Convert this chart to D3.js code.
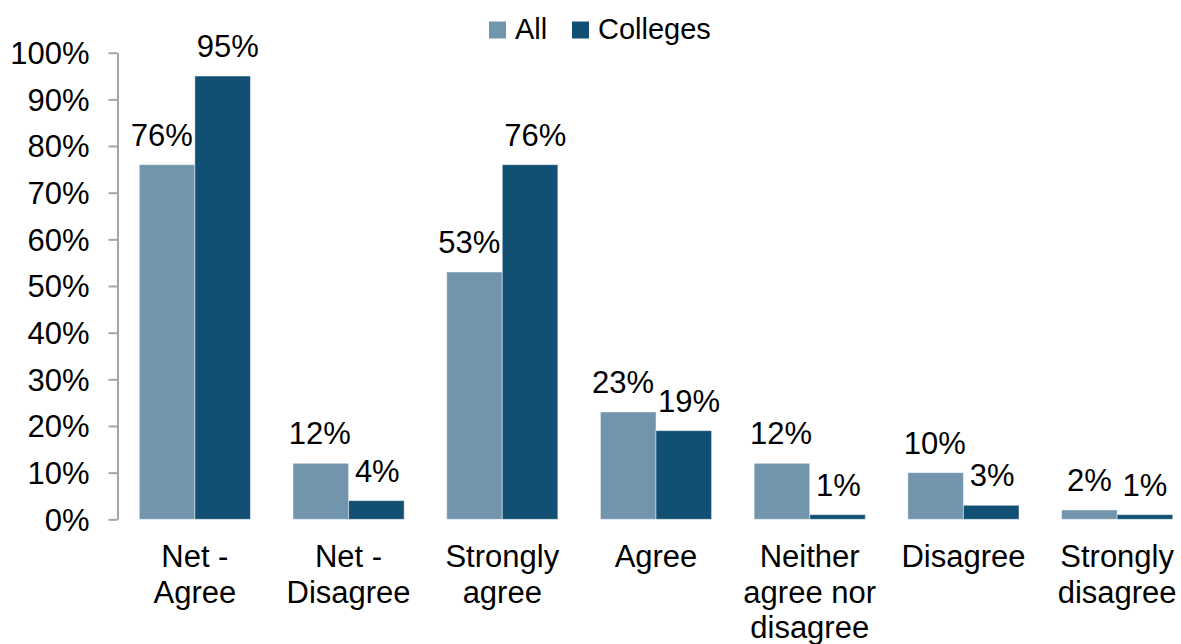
<!DOCTYPE html>
<html>
<head>
<meta charset="utf-8">
<script src="https://cdn.jsdelivr.net/npm/d3@7"></script>
<style>
  body { margin: 0; background: #fff; }
  svg { display: block; font-family: "Liberation Sans", Arial, sans-serif; }
</style>
</head>
<body>
<svg id="vis"></svg>
<script>
const width = 1181;
const height = 644;
const margin = {top: 52.7, right: -13, bottom: 124.7, left: 118};

const categories = ['Net - Agree', 'Net - Disagree', 'Strongly agree', 'Agree', 'Neither agree nor disagree', 'Disagree', 'Strongly disagree'];
const seriesNames = ['All', 'Colleges'];
const allValues = [76, 12, 53, 23, 12, 10, 2];
const collegeValues = [95, 4, 76, 19, 1, 3, 1];
const yTicks = [0, 10, 20, 30, 40, 50, 60, 70, 80, 90, 100];
const colors = ['#7295ae', '#114f73'];

const rows = categories.map((c, i) => ({category: c, values: [allValues[i], collegeValues[i]]}));

const svg = d3.select('#vis').attr('width', width).attr('height', height);

const x0 = d3.scaleBand().domain(categories).range([margin.left, width - margin.right]).paddingInner(0.277).paddingOuter(0.1385);
const x1 = d3.scaleBand().domain(seriesNames).range([0, x0.bandwidth()]);
const y = d3.scaleLinear().domain([0, 100]).range([height - margin.bottom, margin.top]);

// y axis
const yAxis = svg.append('g')
  .attr('transform', `translate(${margin.left - 0.5},0)`)
  .call(d3.axisLeft(y).tickValues(yTicks).tickFormat(d => d + '%').tickSize(9).tickSizeOuter(0).tickPadding(19));
yAxis.select('.domain').attr('stroke', '#a6a6a6').attr('stroke-width', 2);
yAxis.selectAll('.tick line').attr('stroke', '#a6a6a6').attr('stroke-width', 2);
yAxis.selectAll('.tick text').attr('fill', '#000').style('font-size', '31px').attr('font-family', null).attr('dy', '0.35em');

// bars
const groups = svg.append('g').selectAll('g').data(rows).join('g')
  .attr('transform', d => `translate(${x0(d.category)},0)`);

groups.selectAll('rect').data(d => d.values.map((v, i) => ({key: seriesNames[i], value: v, i})))
  .join('rect')
  .attr('x', d => x1(d.key))
  .attr('y', d => y(d.value))
  .attr('width', x1.bandwidth())
  .attr('height', d => y(0) - y(d.value))
  .attr('fill', d => colors[d.i])
  .attr('stroke', 'rgba(255,255,255,0.45)')
  .attr('stroke-width', 1);

groups.each(function() {
  const g = d3.select(this);
  const labels = g.selectAll('text.val').data(d => d.values.map((v, i) => ({key: seriesNames[i], value: v})))
    .join('text')
    .attr('class', 'val')
    .attr('x', d => x1(d.key) + x1.bandwidth() / 2)
    .attr('y', d => y(d.value) - 19)
    .attr('text-anchor', 'middle')
    .style('font-size', '31px')
    .attr('fill', '#000')
    .text(d => d.value + '%');
  // push the two labels apart when they collide
  const nodes = labels.nodes();
  const w0 = nodes[0].getComputedTextLength();
  const w1 = nodes[1].getComputedTextLength();
  const c0 = +nodes[0].getAttribute('x');
  const c1 = +nodes[1].getAttribute('x');
  const overlap = (c0 + w0 / 2 + 4) - (c1 - w1 / 2);
  if (overlap > 0) {
    d3.select(nodes[0]).attr('x', c0 - overlap / 2);
    d3.select(nodes[1]).attr('x', c1 + overlap / 2);
  }
});

// category labels with wrapping
const xLabels = svg.append('g').selectAll('text').data(categories).join('text')
  .attr('x', d => x0(d) + x0.bandwidth() / 2)
  .attr('y', 567)
  .attr('text-anchor', 'middle')
  .style('font-size', '31px')
  .attr('fill', '#000');

xLabels.each(function(d) {
  const text = d3.select(this);
  const words = d.split(' ');
  const maxW = x0.step() - 4;
  let line = [];
  let tspan = text.append('tspan').attr('x', text.attr('x')).attr('dy', 0);
  words.forEach(w => {
    line.push(w);
    tspan.text(line.join(' '));
    if (tspan.node().getComputedTextLength() > maxW && line.length > 1) {
      line.pop();
      tspan.text(line.join(' '));
      line = [w];
      tspan = text.append('tspan').attr('x', text.attr('x')).attr('dy', '1.15em').text(w);
    }
  });
});

// legend
const legend = svg.append('g').attr('transform', 'translate(489,21.5)');
const items = legend.selectAll('g').data(seriesNames).join('g')
  .attr('transform', (d, i) => `translate(${i * 83},0)`);
items.append('rect').attr('width', 17).attr('height', 17).attr('fill', (d, i) => colors[i]);
items.append('text').attr('x', 26).attr('y', 17).style('font-size', '29px').attr('fill', '#000').text(d => d);
</script>
</body>
</html>
